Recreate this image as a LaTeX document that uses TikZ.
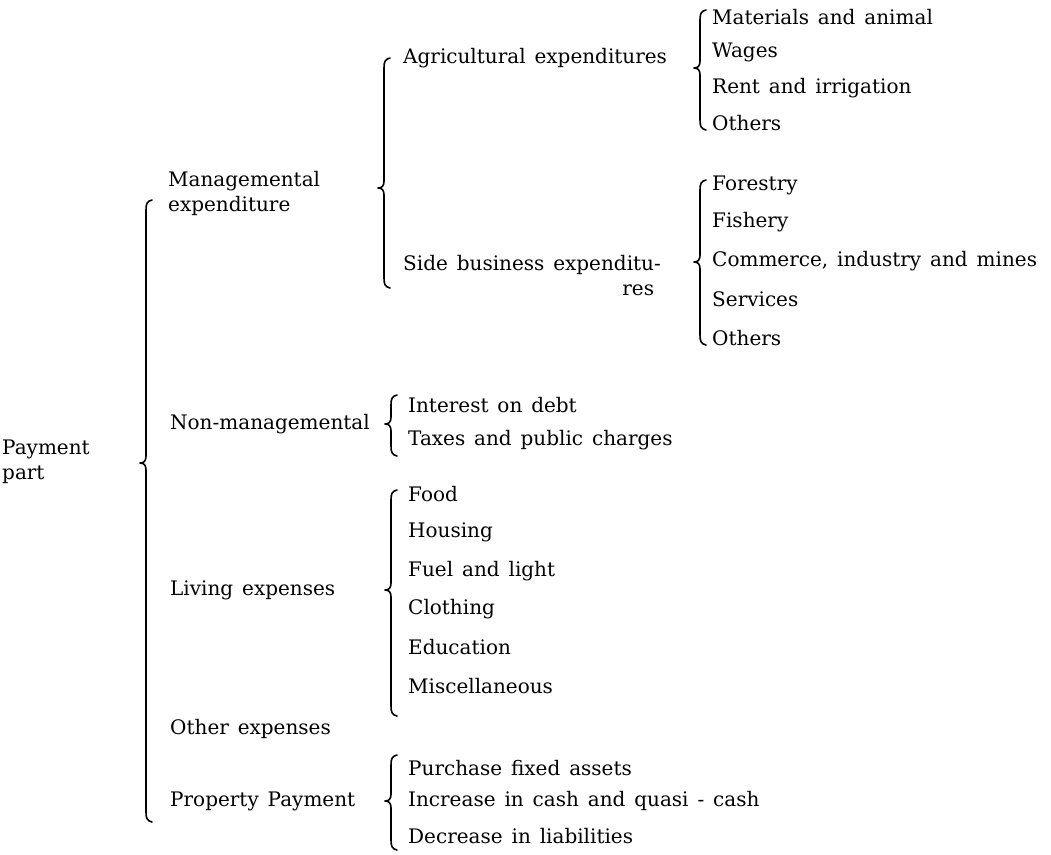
\documentclass[tikz,border=0pt]{standalone}
\usepackage{fontspec}
\setmainfont[WordSpace=1.4]{DejaVu Serif}
\tikzset{
  lbl/.style={anchor=west,inner sep=0pt,font=\fontsize{20}{25}\selectfont},
  brc/.style={line width=1.6pt,line cap=round,line join=round}
}
\newcommand{\curlyb}[4]{% x, top, bottom, cusp
  \draw[brc] (#1+6,#2) .. controls (#1+1,#2+1) and (#1,#2+4) .. (#1,#2+10)
    -- (#1,#4-7) .. controls (#1,#4-2) and (#1-2,#4) .. (#1-6,#4)
    .. controls (#1-2,#4) and (#1,#4+2) .. (#1,#4+7)
    -- (#1,#3-10) .. controls (#1,#3-4) and (#1+1,#3-1) .. (#1+6,#3);}
\begin{document}
\begin{tikzpicture}[x=1pt,y=-1pt]
\useasboundingbox (0,0) rectangle (1051,854);
% level 0
\node[lbl,align=left] (pay) at (2,462) {Payment\\part};
\curlyb{146}{200}{822}{463}
% level 1
\node[lbl,align=left] (man) at (168,193) {Managemental\\expenditure};
\node[lbl] (nonman) at (170,424) {Non-managemental};
\node[lbl] (living) at (170,590) {Living expenses};
\node[lbl] (other) at (170,729) {Other expenses};
\node[lbl] (prop) at (170,801) {Property Payment};
% managemental sub
\curlyb{384}{58}{288}{188}
\node[lbl] (agri) at (403,58) {Agricultural expenditures};
\node[lbl,align=right] (side) at (403,276) {Side business expenditu-\\res\phantom{-}};
% agri sub
\curlyb{700}{10}{130}{68}
\node[lbl] (a1) at (712,17) {Materials and animal};
\node[lbl] (a2) at (712,52) {Wages};
\node[lbl] (a3) at (712,88) {Rent and irrigation};
\node[lbl] (a4) at (712,123) {Others};
% side sub
\curlyb{700}{180}{345}{262}
\node[lbl] (s1) at (712,185) {Forestry};
\node[lbl] (s2) at (712,222) {Fishery};
\node[lbl] (s3) at (712,261) {Commerce, industry and mines};
\node[lbl] (s4) at (712,299) {Services};
\node[lbl] (s5) at (712,338) {Others};
% non-managemental sub
\curlyb{391}{395}{456}{424}
\node[lbl] (n1) at (408,405) {Interest on debt};
\node[lbl] (n2) at (408,440) {Taxes and public charges};
% living sub
\curlyb{391}{490}{716}{590}
\node[lbl] (l1) at (408,494) {Food};
\node[lbl] (l2) at (408,532) {Housing};
\node[lbl] (l3) at (408,571) {Fuel and light};
\node[lbl] (l4) at (408,609) {Clothing};
\node[lbl] (l5) at (408,647) {Education};
\node[lbl] (l6) at (408,686) {Miscellaneous};
% property sub
\curlyb{391}{755}{850}{801}
\node[lbl] (p1) at (408,768) {Purchase fixed assets};
\node[lbl] (p2) at (408,801) {Increase in cash and quasi - cash};
\node[lbl] (p3) at (408,836) {Decrease in liabilities};
\end{tikzpicture}
\end{document}
